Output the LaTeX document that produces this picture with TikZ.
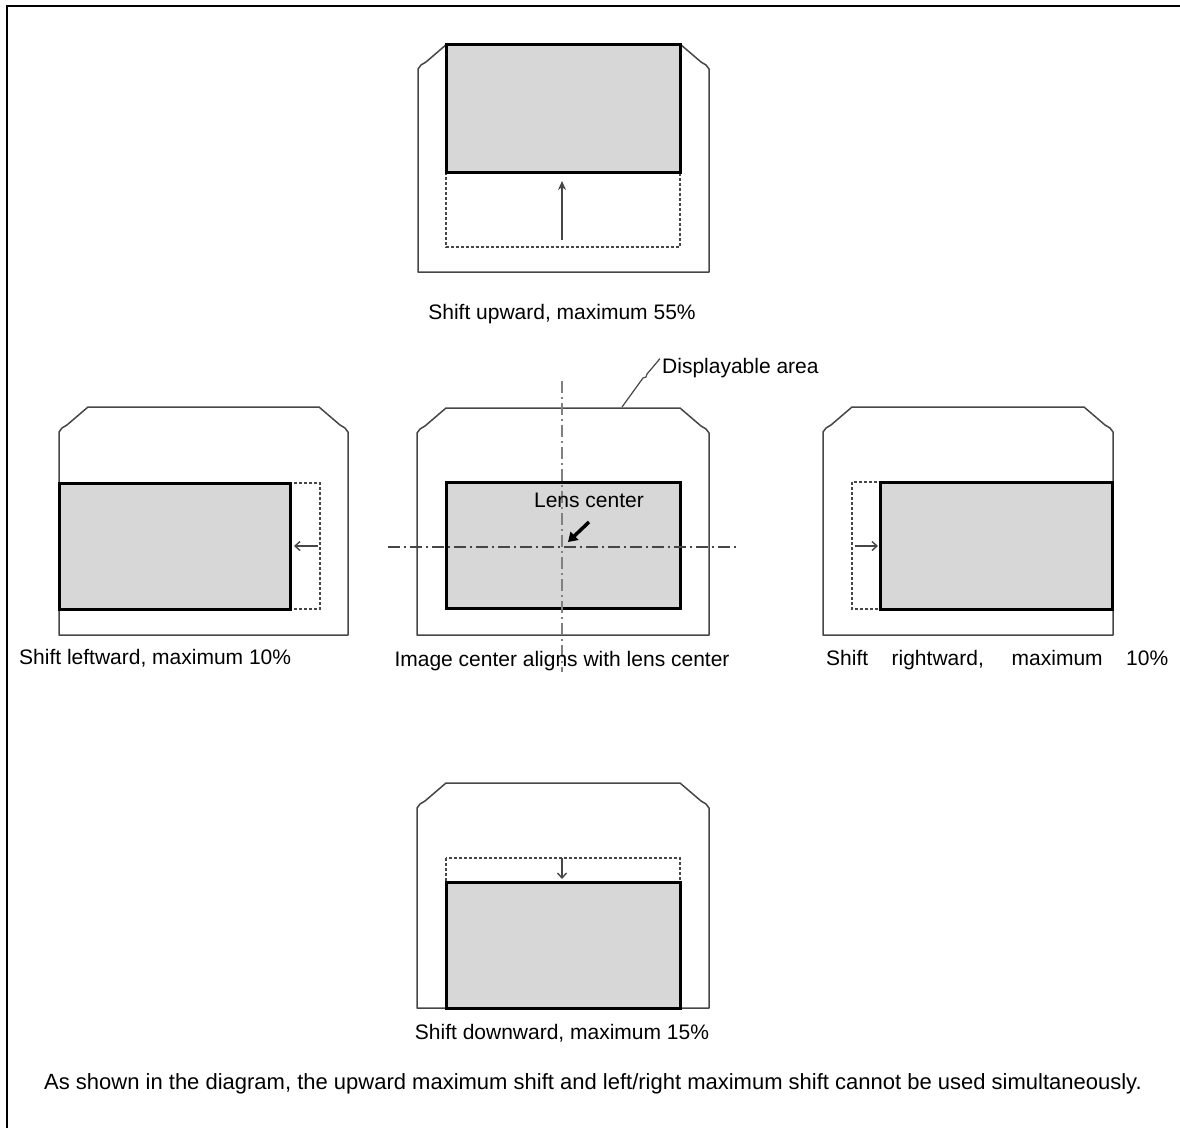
\documentclass[tikz,border=0pt]{standalone}
\usepackage{fontspec}
\setmainfont{Liberation Sans}
\usetikzlibrary{arrows.meta}
\definecolor{imgfill}{RGB}{215,215,215}
\definecolor{linegray}{RGB}{70,70,70}
\newcommand\outlinebox[4]{%
  \draw[outl] (#1,#4) -- (#1,#3+25) -- (#1+3,#3+21) -- (#1+8,#3+18) -- (#1+29,#3)
    -- (#2-29,#3) -- (#2-8,#3+18) -- (#2-3,#3+21) -- (#2,#3+25) -- (#2,#4) -- cycle;}
\begin{document}
\begin{tikzpicture}[x=1pt,y=-1pt,
  outl/.style={draw=linegray,line width=1.5pt,line join=round},
  imgbox/.style={draw=black,fill=imgfill,line width=3pt},
  dotbox/.style={draw=linegray,line width=1.5pt,dash pattern=on 3pt off 2pt},
  shiftarrow/.style={draw=linegray,line width=1.4pt,-{Straight Barb[length=5pt,width=9pt]}},
  axisline/.style={draw=linegray,line width=1.5pt,dash pattern=on 12pt off 4pt on 2pt off 4pt},
  lbl/.style={inner sep=0pt,font=\fontsize{21}{25}\selectfont,text=black}]
\useasboundingbox (0,0) rectangle (1180,1128);
% frame
\draw[line width=2pt] (7,1128) -- (7,6) -- (1180,6);
% top panel: shift upward
\outlinebox{418}{709}{44}{272}
\draw[dotbox] (446,172) rectangle (680,247);
\draw[imgbox] (446,44) rectangle (680,172);
\draw[shiftarrow,-{Stealth[length=9pt,width=8pt]}] (562,240) -- (562,181);
\node[lbl,anchor=base] (capup) at (562,319) {Shift upward, maximum 55\%};
% center panel
\outlinebox{417}{709}{408}{635}
\draw[imgbox] (446,482) rectangle (680,608);
\draw[axisline] (388,547) -- (739,547);
\draw[axisline,draw=gray,line width=2.5pt] (562,381) -- (562,672);
\node[lbl,anchor=base] (lens) at (589,507) {Lens center};
\draw[line width=3.5pt,-{Triangle[length=9pt,width=11pt]}] (589,522) -- (568,542);
\node[lbl,anchor=base west] (disp) at (662,373) {Displayable area};
\coordinate (dispfoot) at (622,407);
\draw[linegray,line width=1.2pt] (dispfoot) -- (643,378) -- (646,377) -- (647,374) -- ([xshift=-2pt,yshift=-1pt]disp.north west);
\node[lbl,anchor=base] (capcenter) at (562,666) {Image center aligns with lens center};
% left panel
\outlinebox{59}{348}{407}{635}
\draw[dotbox] (290,483) rectangle (320,609);
\draw[imgbox] (59,483) rectangle (290,609);
\draw[shiftarrow] (318,546) -- (294,546);
\node[lbl,anchor=base west] (capleft) at (19,664) {Shift leftward, maximum 10\%};
% right panel
\outlinebox{823}{1113}{407}{635}
\draw[dotbox] (852,482) rectangle (880,609);
\draw[imgbox] (880,482) rectangle (1112,609);
\draw[shiftarrow] (855,546) -- (878,546);
\node[lbl,anchor=base west] (capright) at (826,665) {\makebox[342pt][s]{Shift rightward, maximum 10\%}};
% bottom panel
\outlinebox{417}{709}{783}{1008}
\draw[dotbox] (446,858) rectangle (680,882);
\draw[imgbox] (446,882) rectangle (680,1008);
\draw[shiftarrow] (562,858) -- (562,879);
\node[lbl,anchor=base] (capdown) at (562,1039) {Shift downward, maximum 15\%};
% note
\node[lbl,anchor=base west,font=\fontsize{22}{26}\selectfont] (note) at (44,1089) {As shown in the diagram, the upward maximum shift and left/right maximum shift cannot be used simultaneously.};
\end{tikzpicture}
\end{document}
